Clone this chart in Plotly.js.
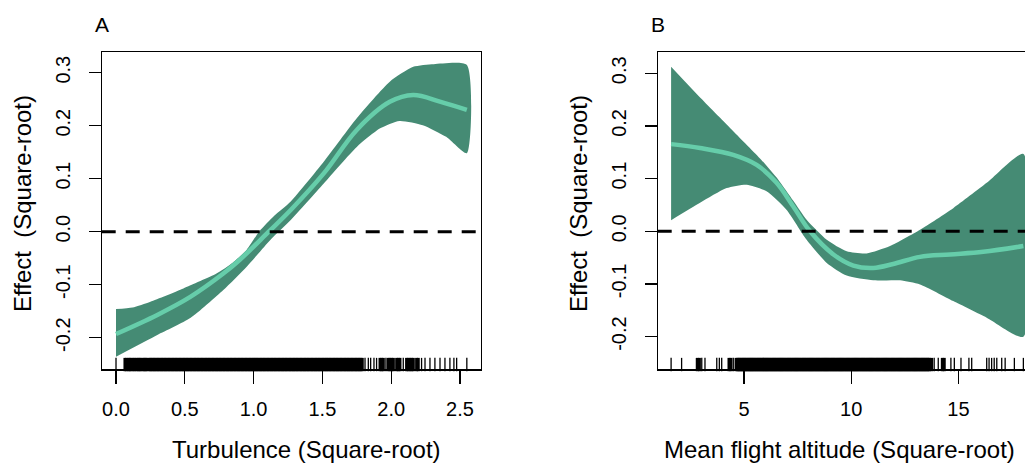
<!DOCTYPE html>
<html>
<head>
<meta charset="utf-8">
<script src="https://cdn.plot.ly/plotly-3.0.1.min.js"></script>
<style>html,body{margin:0;padding:0;background:#fff;overflow:hidden}</style>
</head>
<body>
<div id="chart" style="width:1025px;height:463px"></div>
<script>
// ---------- Panel A: Turbulence ----------
const turbFitX = [0, 0.30, 0.54, 0.78, 0.90, 1.11, 1.27, 1.51, 1.75, 1.99, 2.16, 2.36, 2.55];
const turbFitY = [-0.193, -0.157, -0.123, -0.079, -0.053, 0.0, 0.041, 0.110, 0.192, 0.245, 0.258, 0.245, 0.230];
const turbUpX = [0, 0.12, 0.25, 0.49, 0.73, 0.85, 0.95, 1.04, 1.15, 1.27, 1.51, 1.75, 1.99, 2.16, 2.31, 2.55];
const turbUpY = [-0.146, -0.143, -0.132, -0.107, -0.079, -0.058, -0.034, 0.0, 0.030, 0.057, 0.132, 0.214, 0.283, 0.311, 0.316, 0.3145];
const turbLoX = [0, 0.30, 0.54, 0.78, 0.95, 1.12, 1.27, 1.51, 1.75, 1.92, 2.06, 2.23, 2.40, 2.55];
const turbLoY = [-0.236, -0.195, -0.163, -0.110, -0.066, -0.016, 0.022, 0.091, 0.160, 0.195, 0.209, 0.201, 0.179, 0.148];
const turbRug = [0.00,
 0.065,0.075,0.09,0.10,0.11,0.125,0.135,0.15,0.16,0.17,0.18,0.195,0.205,0.215,0.225,0.24,0.25,0.26,0.27,0.28,0.29,
 0.30,0.31,0.32,0.33,0.34,0.35,0.36,0.37,0.38,0.39,0.40,0.41,0.42,0.43,0.44,0.45,0.46,0.47,0.48,0.49,
 0.50,0.51,0.52,0.53,0.54,0.55,0.56,0.57,0.58,0.59,0.60,0.61,0.62,0.63,0.64,0.65,0.66,0.67,0.68,0.69,
 0.70,0.71,0.72,0.73,0.74,0.75,0.76,0.77,0.78,0.79,0.80,0.81,0.82,0.83,0.84,0.85,0.86,0.87,0.88,0.89,
 0.90,0.91,0.92,0.93,0.94,0.95,0.96,0.97,0.98,0.99,1.00,1.01,1.02,1.03,1.04,1.05,1.06,1.07,1.08,1.09,
 1.10,1.11,1.12,1.13,1.14,1.15,1.16,1.17,1.18,1.19,1.20,1.21,1.22,1.23,1.24,1.25,1.26,1.27,1.28,1.29,
 1.30,1.31,1.32,1.33,1.34,1.35,1.36,1.37,1.38,1.39,1.40,1.41,1.42,1.43,1.44,1.45,1.46,1.47,1.48,1.49,
 1.50,1.51,1.52,1.53,1.54,1.55,1.56,1.57,1.58,1.59,1.60,1.61,1.62,1.63,1.64,1.65,1.66,1.67,1.68,1.69,
 1.70,1.71,1.72,1.73,1.74,1.75,1.76,1.77,1.78,1.79,
 1.81,1.834,1.851,1.875,1.894,1.919,1.931,1.943,1.962,1.979,1.991,2.004,2.016,2.040,2.052,2.064,2.088,
 2.112,2.124,2.137,2.149,2.161,2.185,2.197,2.221,2.246,2.282,2.318,2.355,2.391,2.427,2.456,2.476,2.55];
const turbTicks = [0, 0.5, 1.0, 1.5, 2.0, 2.5];
const turbTickText = ["0.0", "0.5", "1.0", "1.5", "2.0", "2.5"];

// ---------- Panel B: Mean flight altitude ----------
const altFitX = [1.60, 2.95, 4.50, 5.59, 6.52, 7.30, 8.08, 9.17, 10.10, 11.03, 11.96, 13.21, 14.61, 16.16, 18.03];
const altFitY = [0.1655, 0.158, 0.145, 0.126, 0.092, 0.047, 0.0, -0.044, -0.065, -0.0695, -0.062, -0.0485, -0.044, -0.039, -0.028];
const altUpX = [1.60, 3.00, 4.50, 5.80, 6.60, 7.30, 7.92, 8.86, 9.79, 10.72, 11.81, 13.21, 14.76, 16.32, 18.03];
const altUpY = [0.3125, 0.252, 0.190, 0.136, 0.098, 0.058, 0.022, -0.016, -0.038, -0.042, -0.028, 0.003, 0.044, 0.092, 0.147];
const altLoX = [1.60, 2.95, 4.19, 5.13, 6.05, 6.98, 7.92, 8.86, 9.79, 11.03, 12.28, 13.21, 14.76, 16.32, 18.03];
const altLoY = [0.021, 0.054, 0.082, 0.0885, 0.076, 0.041, -0.016, -0.060, -0.084, -0.093, -0.093, -0.101, -0.1325, -0.164, -0.200];
const altRug = [1.60,2.09,2.82,2.92,3.03,3.18,3.73,3.85,3.96,4.30,4.39,4.50,4.63,
 4.70,4.75,4.80,4.85,4.90,4.95,5.00,5.05,5.10,5.15,5.20,5.25,5.30,5.35,5.40,5.45,5.50,5.55,5.60,5.65,
 5.70,5.75,5.80,5.85,5.90,5.95,6.00,6.05,6.10,6.15,6.20,6.25,6.30,6.35,6.40,6.45,6.50,6.55,6.60,6.65,
 6.70,6.75,6.80,6.85,6.90,6.95,7.00,7.05,7.10,7.15,7.20,7.25,7.30,7.35,7.40,7.45,7.50,7.55,7.60,7.65,
 7.70,7.75,7.80,7.85,7.90,7.95,8.00,8.05,8.10,8.15,8.20,8.25,8.30,8.35,8.40,8.45,8.50,8.55,8.60,8.65,
 8.70,8.75,8.80,8.85,8.90,8.95,9.00,9.05,9.10,9.15,9.20,9.25,9.30,9.35,9.40,9.45,9.50,9.55,9.60,9.65,
 9.70,9.75,9.80,9.85,9.90,9.95,10.00,10.05,10.10,10.15,10.20,10.25,10.30,10.35,10.40,10.45,10.50,10.55,
 10.60,10.65,10.70,10.75,10.80,10.85,10.90,10.95,11.00,11.05,11.10,11.15,11.20,11.25,11.30,11.35,11.40,
 11.45,11.50,11.55,11.60,11.65,11.70,11.75,11.80,11.85,11.90,11.95,12.00,12.05,12.10,12.15,12.20,12.25,
 12.30,12.35,12.40,12.45,12.50,12.55,12.60,12.65,12.70,12.75,12.80,12.85,12.90,12.95,13.00,13.05,13.10,
 13.15,13.20,13.25,13.30,13.35,13.40,13.45,13.50,13.55,13.60,13.65,
 13.75,13.87,14.06,14.25,14.34,14.65,14.81,15.12,15.49,15.62,16.32,16.43,16.55,16.67,16.79,17.02,17.18,17.61,18.03];
const altTicks = [5, 10, 15];
const altTickText = ["5", "10", "15"];

const effTicks = [-0.2, -0.1, 0.0, 0.1, 0.2, 0.3];
const effTickText = ["-0.2", "-0.1", "0.0", "0.1", "0.2", "0.3"];

// ---------- styles ----------
const bandColor = '#458B74';   // aquamarine4
const fitColor = '#66CDAA';    // mediumaquamarine
const W = 1025, H = 463;
const px = v => v / W;
const py = v => 1 - v / H;
const domA = [101.7, 481], domB = [657.7, 1025];
const rangeA = {x: [-0.104, 2.653], y: [-0.2596, 0.3396]};
const rangeB = {x: [0.975, 18.106], y: [-0.262, 0.341]};
const plotH = 369.3 - 51.7;

function band(upX, upY, loX, loY, xa, ya) {
  return {
    x: upX.concat(loX.slice().reverse()),
    y: upY.concat(loY.slice().reverse()),
    xaxis: xa, yaxis: ya, type: 'scatter', mode: 'lines',
    fill: 'toself', fillcolor: bandColor,
    line: {width: 0, color: bandColor, shape: 'spline', smoothing: 0.6},
    hoverinfo: 'skip'
  };
}
function fit(x, y, xa, ya) {
  return {x: x, y: y, xaxis: xa, yaxis: ya, type: 'scatter', mode: 'lines',
    line: {width: 4.5, color: fitColor, shape: 'spline', smoothing: 1}};
}
// rug ticks: packed ticks (closer than ~2 px to a neighbour) are drawn wider so the block reads solid
function rug(vals, range, dom, xa, ya) {
  const yc = range.y[0] + 0.015 * (range.y[1] - range.y[0]);
  const pxPerUnit = (dom[1] - dom[0]) / (range.x[1] - range.x[0]);
  const widths = vals.map((v, i) => {
    const dl = i > 0 ? (v - vals[i - 1]) * pxPerUnit : 99;
    const dr = i < vals.length - 1 ? (vals[i + 1] - v) * pxPerUnit : 99;
    return Math.min(dl, dr) < 2.2 ? 3 : 1.3;
  });
  return {x: vals, y: vals.map(() => yc), xaxis: xa, yaxis: ya, type: 'scatter', mode: 'markers',
    marker: {symbol: 'line-ns', size: 0.03 * plotH, color: '#000', line: {width: widths, color: '#000'}},
    cliponaxis: false, hoverinfo: 'skip'};
}

const data = [
  band(turbUpX, turbUpY, turbLoX, turbLoY, 'x', 'y'),
  fit(turbFitX, turbFitY, 'x', 'y'),
  rug(turbRug, rangeA, domA, 'x', 'y'),
  band(altUpX, altUpY, altLoX, altLoY, 'x2', 'y2'),
  fit(altFitX, altFitY, 'x2', 'y2'),
  rug(altRug, rangeB, domB, 'x2', 'y2')
];

const shapes = [];
['x', 'x2'].forEach((xr, i) => shapes.push({type: 'line', xref: xr + ' domain', yref: i ? 'y2' : 'y',
  x0: 0, x1: 1, y0: 0, y1: 0, line: {color: '#000', width: 3, dash: '14px,10px'}, layer: 'above'}));

const yDom = [py(369.3), py(51.7)];
const axBase = {
  ticks: 'outside', tickwidth: 1.2, tickcolor: '#000', showline: true, linecolor: '#000', linewidth: 1.2,
  showgrid: false, zeroline: false, tickfont: {size: 20, color: '#000'}
};

function ann(text, x, y, size, angle) {
  return {text: text, xref: 'paper', yref: 'paper', x: px(x), y: py(y), xanchor: 'center', yanchor: 'middle',
    showarrow: false, textangle: angle || 0, font: {size: size, color: '#000'}};
}

const layout = {
  width: W, height: H, margin: {l: 0, r: 0, t: 0, b: 0},
  paper_bgcolor: '#fff', plot_bgcolor: '#fff', showlegend: false,
  font: {family: 'Liberation Sans, Arial, sans-serif', color: '#000'},
  xaxis: Object.assign({}, axBase, {domain: [px(domA[0]), px(domA[1])], range: rangeA.x, anchor: 'y',
    tickvals: turbTicks, ticktext: turbTickText, ticklen: 13, mirror: true, ticklabelstandoff: 8}),
  yaxis: Object.assign({}, axBase, {domain: yDom, range: rangeA.y, anchor: 'x',
    tickvals: effTicks, ticktext: effTickText, ticklen: 12, tickangle: -90, mirror: true, ticklabelstandoff: 11}),
  xaxis2: Object.assign({}, axBase, {domain: [px(domB[0]), 1], range: rangeB.x, anchor: 'y2',
    tickvals: altTicks, ticktext: altTickText, ticklen: 13, mirror: true, ticklabelstandoff: 8}),
  yaxis2: Object.assign({}, axBase, {domain: yDom, range: rangeB.y, anchor: 'x2',
    tickvals: effTicks, ticktext: effTickText, ticklen: 12, tickangle: -90, mirror: false, ticklabelstandoff: 11}),
  shapes: shapes,
  annotations: [
    ann('A', 102, 25, 21),
    ann('B', 658, 25, 21),
    ann('Turbulence (Square-root)', 306, 449, 24),
    ann('Mean flight altitude (Square-root)', 839, 449, 24),
    ann('Effect  (Square-root)', 23, 204, 24, -90),
    ann('Effect  (Square-root)', 579, 204, 24, -90)
  ]
};

Plotly.newPlot('chart', data, layout, {staticPlot: true, displayModeBar: false});
</script>
</body>
</html>
